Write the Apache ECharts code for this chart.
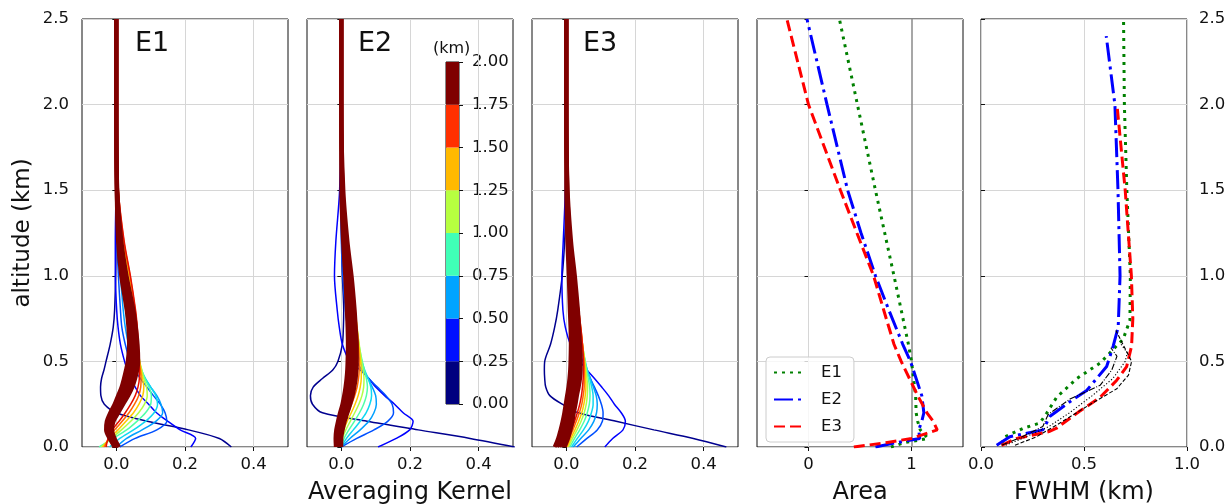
<!DOCTYPE html>
<html><head><meta charset="utf-8">
<script src="https://cdn.jsdelivr.net/npm/echarts@6/dist/echarts.min.js"></script>
<style>html,body{margin:0;padding:0;background:#fff}#c{width:1231px;height:504px}</style>
</head><body><div id="c"></div>
<script>
const FONT = 'DejaVu Sans';
// ---------- tick labels ----------
const yTicks = [0, 0.5, 1.0, 1.5, 2.0, 2.5];
const akXTicks = [0, 0.2, 0.4];
const areaXTicks = [0, 1];
const fwXTicks = [0, 0.5, 1];
const cbBounds = [0, 0.25, 0.5, 0.75, 1.0, 1.25, 1.5, 1.75, 2.0];
const cbColors = ['#00007f', '#0010ff', '#00a4ff', '#40ffb7', '#b7ff40', '#ffb900', '#ff3000', '#7f0000'];
const panelNames = ['E1', 'E2', 'E3'];
const axisTitles = ['Averaging Kernel', 'Area', 'FWHM (km)'];

// ---------- averaging kernels (altitude grid, km) ----------
const akAlt = [0, 0.05, 0.1, 0.15, 0.2, 0.25, 0.3, 0.35, 0.4, 0.45, 0.5, 0.6, 0.7, 0.8, 1.0, 1.2, 1.5, 2.0, 2.5];
const kernelColors = ['#00008f', '#0000ff', '#0050ff', '#00a0ff', '#10d8f0', '#50ffa8', '#b0ff48', '#ffc800', '#ff6800', '#e81000'];
const darkRed = '#800000';

// E1
const e1K0 = [0.335, 0.30, 0.21, 0.09, 0.0, -0.035, -0.045, -0.046, -0.043, -0.036, -0.03, -0.018, -0.009, -0.005, -0.002, -0.001, 0, 0, 0];
const e1K1 = [0.217, 0.231, 0.186, 0.15, 0.117, 0.094, 0.07, 0.055, 0.042, 0.032, 0.024, 0.012, 0.005, 0.001, -0.003, -0.003, -0.001, 0, 0];
const e1K2 = [0.01, 0.055, 0.118, 0.147, 0.142, 0.128, 0.108, 0.089, 0.07, 0.053, 0.04, 0.026, 0.016, 0.012, 0.006, 0.002, 0, 0, 0];
const e1K3 = [0.0, 0.03, 0.075, 0.115, 0.135, 0.13, 0.118, 0.1, 0.083, 0.068, 0.056, 0.036, 0.026, 0.02, 0.012, 0.005, 0.001, 0, 0];
const e1K4 = [-0.02, 0.01, 0.05, 0.085, 0.11, 0.12, 0.115, 0.1, 0.085, 0.073, 0.064, 0.045, 0.034, 0.027, 0.016, 0.008, 0.002, 0, 0];
const e1K5 = [-0.05, -0.01, 0.03, 0.06, 0.085, 0.1, 0.102, 0.095, 0.083, 0.074, 0.067, 0.056, 0.046, 0.038, 0.024, 0.012, 0.003, 0, 0];
const e1K6 = [-0.045, -0.015, 0.015, 0.042, 0.065, 0.082, 0.09, 0.088, 0.08, 0.074, 0.068, 0.06, 0.054, 0.047, 0.032, 0.017, 0.004, 0, 0];
const e1K7 = [-0.04, -0.02, 0.005, 0.028, 0.05, 0.066, 0.077, 0.08, 0.076, 0.072, 0.068, 0.062, 0.058, 0.052, 0.037, 0.02, 0.005, 0, 0];
const e1K8 = [-0.035, -0.022, -0.005, 0.017, 0.037, 0.053, 0.065, 0.071, 0.072, 0.07, 0.067, 0.063, 0.06, 0.055, 0.04, 0.022, 0.006, 0, 0];
const e1K9 = [-0.03, -0.024, -0.012, 0.008, 0.026, 0.042, 0.055, 0.063, 0.067, 0.067, 0.066, 0.064, 0.061, 0.056, 0.041, 0.023, 0.006, 0, 0];
const e1D1 = [0.008, -0.005, -0.012, -0.008, 0.006, 0.02, 0.035, 0.047, 0.055, 0.061, 0.064, 0.062, 0.057, 0.05, 0.03, 0.015, 0.003, 0, 0];
const e1D4 = [0.005, -0.009, -0.017, -0.013, 0.0, 0.014, 0.028, 0.039, 0.047, 0.053, 0.057, 0.056, 0.051, 0.045, 0.026, 0.012, 0.002, 0, 0];
const e1D2 = [0.002, -0.012, -0.021, -0.018, -0.006, 0.007, 0.02, 0.031, 0.039, 0.045, 0.049, 0.05, 0.046, 0.04, 0.022, 0.01, 0.002, 0, 0];
const e1D5 = [-0.002, -0.016, -0.026, -0.023, -0.012, 0.001, 0.012, 0.023, 0.031, 0.037, 0.041, 0.044, 0.041, 0.035, 0.018, 0.007, 0.001, 0, 0];
const e1D3 = [-0.005, -0.02, -0.03, -0.028, -0.018, -0.005, 0.005, 0.015, 0.022, 0.028, 0.033, 0.037, 0.035, 0.03, 0.014, 0.005, 0.001, 0, 0];

// E2
const e2K0 = [0.505, 0.375, 0.224, 0.075, -0.055, -0.084, -0.09, -0.082, -0.055, -0.025, -0.01, 0.003, 0.006, 0.007, 0.003, 0.001, 0, 0, 0];
const e2K1 = [0.107, 0.16, 0.199, 0.209, 0.18, 0.155, 0.126, 0.1, 0.08, 0.055, 0.025, 0.003, -0.006, -0.012, -0.02, -0.016, -0.005, 0, 0];
const e2K2 = [0.0, 0.045, 0.095, 0.135, 0.152, 0.148, 0.13, 0.105, 0.08, 0.06, 0.045, 0.028, 0.018, 0.012, 0.004, 0.0, -0.002, 0, 0];
const e2K3 = [0, 0.025, 0.055, 0.08, 0.095, 0.102, 0.1, 0.09, 0.078, 0.065, 0.055, 0.04, 0.03, 0.024, 0.014, 0.006, 0.001, 0, 0];
const e2K4 = [0, 0.015, 0.035, 0.055, 0.072, 0.083, 0.088, 0.086, 0.078, 0.068, 0.06, 0.047, 0.037, 0.03, 0.019, 0.009, 0.002, 0, 0];
const e2K5 = [0, 0.008, 0.022, 0.038, 0.053, 0.065, 0.073, 0.076, 0.073, 0.067, 0.061, 0.051, 0.042, 0.035, 0.023, 0.012, 0.003, 0, 0];
const e2K6 = [0, 0.003, 0.013, 0.026, 0.039, 0.051, 0.06, 0.065, 0.066, 0.063, 0.059, 0.052, 0.045, 0.038, 0.026, 0.014, 0.004, 0, 0];
const e2K7 = [-0.003, 0.0, 0.007, 0.017, 0.029, 0.04, 0.049, 0.055, 0.058, 0.058, 0.056, 0.051, 0.046, 0.04, 0.028, 0.016, 0.004, 0, 0];
const e2K8 = [-0.006, -0.004, 0.002, 0.01, 0.02, 0.03, 0.039, 0.046, 0.05, 0.052, 0.052, 0.049, 0.045, 0.04, 0.029, 0.017, 0.005, 0, 0];
const e2K9 = [-0.008, -0.007, -0.002, 0.005, 0.013, 0.022, 0.031, 0.038, 0.043, 0.046, 0.047, 0.047, 0.044, 0.04, 0.03, 0.018, 0.005, 0, 0];
const e2D1 = [0.0, 0.0, 0.004, 0.01, 0.018, 0.026, 0.033, 0.038, 0.042, 0.044, 0.045, 0.045, 0.042, 0.039, 0.03, 0.018, 0.006, 0, 0];
const e2D4 = [-0.004, -0.004, -0.001, 0.005, 0.012, 0.02, 0.027, 0.032, 0.035, 0.037, 0.038, 0.038, 0.036, 0.033, 0.025, 0.015, 0.004, 0, 0];
const e2D2 = [-0.008, -0.009, -0.006, 0.0, 0.007, 0.014, 0.021, 0.026, 0.029, 0.031, 0.032, 0.032, 0.031, 0.028, 0.021, 0.012, 0.003, 0, 0];
const e2D5 = [-0.012, -0.013, -0.01, -0.005, 0.001, 0.008, 0.014, 0.019, 0.022, 0.024, 0.025, 0.025, 0.024, 0.022, 0.016, 0.008, 0.002, 0, 0];
const e2D3 = [-0.016, -0.017, -0.015, -0.01, -0.004, 0.003, 0.008, 0.012, 0.015, 0.017, 0.018, 0.019, 0.018, 0.016, 0.011, 0.005, 0.0, 0, 0];

// E3
const e3K0 = [0.466, 0.37, 0.255, 0.145, 0.035, -0.012, -0.048, -0.06, -0.063, -0.064, -0.063, -0.046, -0.034, -0.025, -0.012, -0.005, 0, 0, 0];
const e3K1 = [0.112, 0.135, 0.165, 0.172, 0.16, 0.14, 0.123, 0.103, 0.082, 0.06, 0.04, 0.012, -0.003, -0.01, -0.013, -0.009, -0.003, 0, 0];
const e3K2 = [0.03, 0.06, 0.09, 0.105, 0.107, 0.102, 0.093, 0.082, 0.07, 0.058, 0.048, 0.033, 0.024, 0.018, 0.01, 0.004, 0.0, 0, 0];
const e3K3 = [0.02, 0.042, 0.065, 0.08, 0.088, 0.09, 0.087, 0.079, 0.07, 0.061, 0.053, 0.04, 0.031, 0.024, 0.014, 0.007, 0.001, 0, 0];
const e3K4 = [0.015, 0.032, 0.05, 0.064, 0.073, 0.078, 0.078, 0.074, 0.068, 0.061, 0.055, 0.044, 0.035, 0.028, 0.017, 0.009, 0.002, 0, 0];
const e3K5 = [0.01, 0.024, 0.039, 0.052, 0.061, 0.067, 0.069, 0.068, 0.064, 0.059, 0.055, 0.046, 0.038, 0.031, 0.02, 0.01, 0.002, 0, 0];
const e3K6 = [0.006, 0.018, 0.031, 0.043, 0.052, 0.058, 0.061, 0.062, 0.06, 0.057, 0.054, 0.047, 0.04, 0.033, 0.022, 0.011, 0.003, 0, 0];
const e3K7 = [0.003, 0.013, 0.025, 0.036, 0.045, 0.051, 0.055, 0.057, 0.056, 0.055, 0.053, 0.047, 0.041, 0.035, 0.023, 0.012, 0.003, 0, 0];
const e3K8 = [0.0, 0.009, 0.019, 0.029, 0.038, 0.045, 0.049, 0.052, 0.052, 0.052, 0.051, 0.047, 0.042, 0.036, 0.024, 0.013, 0.003, 0, 0];
const e3K9 = [-0.003, 0.006, 0.015, 0.024, 0.032, 0.039, 0.044, 0.047, 0.049, 0.05, 0.05, 0.047, 0.042, 0.036, 0.025, 0.013, 0.003, 0, 0];
const e3D1 = [-0.005, 0.005, 0.012, 0.018, 0.022, 0.027, 0.031, 0.036, 0.04, 0.042, 0.042, 0.04, 0.037, 0.034, 0.025, 0.014, 0.004, 0, 0];
const e3D4 = [-0.012, -0.002, 0.005, 0.01, 0.015, 0.02, 0.024, 0.028, 0.032, 0.034, 0.035, 0.033, 0.031, 0.028, 0.02, 0.011, 0.003, 0, 0];
const e3D2 = [-0.02, -0.01, -0.003, 0.003, 0.008, 0.012, 0.016, 0.021, 0.024, 0.026, 0.027, 0.027, 0.025, 0.022, 0.016, 0.008, 0.002, 0, 0];
const e3D5 = [-0.027, -0.017, -0.01, -0.004, 0.001, 0.005, 0.009, 0.013, 0.016, 0.018, 0.019, 0.02, 0.018, 0.016, 0.011, 0.005, 0.001, 0, 0];
const e3D3 = [-0.034, -0.024, -0.017, -0.011, -0.006, -0.002, 0.002, 0.006, 0.009, 0.011, 0.012, 0.013, 0.012, 0.01, 0.007, 0.003, 0.0, 0, 0];

// ---------- Area ----------
const areaAlt = [0, 0.025, 0.05, 0.1, 0.15, 0.2, 0.3, 0.4, 0.5, 0.6, 0.8, 1.0, 1.25, 1.5, 2.0, 2.5];
const areaE1 = [0.8, 0.93, 1.16, 1.085, 1.06, 1.045, 1.04, 1.02, 1.0, 0.97, 0.9, 0.83, 0.74, 0.65, 0.475, 0.30];
const areaE2 = [0.65, 0.85, 1.08, 1.07, 1.1, 1.12, 1.1, 1.045, 0.99, 0.915, 0.78, 0.65, 0.51, 0.38, 0.18, -0.015];
const areaE3 = [0.44, 0.75, 1.0, 1.25, 1.21, 1.15, 1.06, 0.98, 0.9, 0.83, 0.73, 0.632, 0.47, 0.31, 0.0, -0.21];

// ---------- FWHM ----------
const fwE1Alt = [0.02, 0.06, 0.11, 0.14, 0.2, 0.29, 0.4, 0.49, 0.57, 0.63, 0.74, 1.0, 1.5, 2.0, 2.5];
const fwE1 = [0.1, 0.117, 0.206, 0.286, 0.32, 0.367, 0.465, 0.578, 0.642, 0.69, 0.723, 0.725, 0.708, 0.696, 0.692];
const fwE2Alt = [0.01, 0.06, 0.1, 0.12, 0.18, 0.28, 0.33, 0.47, 0.59, 0.7, 1.0, 1.5, 2.0, 2.4];
const fwE2 = [0.076, 0.14, 0.3, 0.31, 0.335, 0.45, 0.513, 0.61, 0.642, 0.666, 0.675, 0.665, 0.65, 0.608];
const fwE3Alt = [0.01, 0.05, 0.09, 0.11, 0.21, 0.29, 0.39, 0.47, 0.59, 0.75, 1.0, 1.5, 2.0];
const fwE3 = [0.1, 0.173, 0.33, 0.367, 0.48, 0.578, 0.659, 0.707, 0.731, 0.737, 0.73, 0.7, 0.66];
const fwK1Alt = [0.01, 0.06, 0.14, 0.26, 0.34, 0.42, 0.5, 0.55, 0.68];
const fwK1 = [0.165, 0.27, 0.383, 0.545, 0.659, 0.716, 0.731, 0.71, 0.655];
const fwK2Alt = [0.01, 0.06, 0.12, 0.2, 0.3, 0.4, 0.5, 0.55, 0.6];
const fwK2 = [0.12, 0.22, 0.33, 0.43, 0.54, 0.64, 0.7, 0.71, 0.68];
const fwK3Alt = [0.01, 0.06, 0.12, 0.19, 0.28, 0.36, 0.45, 0.53, 0.58];
const fwK3 = [0.1, 0.2, 0.3, 0.326, 0.432, 0.578, 0.635, 0.66, 0.63];

// ---------- build ----------
const kernelsByPanel = [
  { k: [e1K0, e1K1, e1K2, e1K3, e1K4, e1K5, e1K6, e1K7, e1K8, e1K9], d: [e1D3, e1D5, e1D2, e1D4, e1D1] },
  { k: [e2K0, e2K1, e2K2, e2K3, e2K4, e2K5, e2K6, e2K7, e2K8, e2K9], d: [e2D3, e2D5, e2D2, e2D4, e2D1] },
  { k: [e3K0, e3K1, e3K2, e3K3, e3K4, e3K5, e3K6, e3K7, e3K8, e3K9], d: [e3D3, e3D5, e3D2, e3D4, e3D1] }
];
const GRIDC = '#d6d6d6';
const panelLefts = [82, 307, 532, 757, 981];
const TOP = 19, H = 428, W = 206;

function gridOpt(l, t, w, h) {
  return { left: l, top: t, width: w, height: h, show: true, borderColor: '#111', borderWidth: 1,
    backgroundColor: 'transparent', containLabel: false, outerBoundsMode: 'none' };
}
const grids = panelLefts.map(l => gridOpt(l, TOP, W, H));
grids.push(gridOpt(446, 62, 13, 342));

function lbl(extra) { return Object.assign({ fontSize: 16.5, color: '#111', fontFamily: FONT }, extra); }
function ticks(extra) { return Object.assign({ show: true, inside: false, length: 4, lineStyle: { color: '#111', width: 1 } }, extra); }

const X_MARGIN = 9;
const xAxes = [];
for (let i = 0; i < 3; i++) {
  // tick labels of panels 2 and 3 are drawn by their grid-line markLines (see below)
  xAxes.push({ type: 'value', gridIndex: i, min: -0.1, max: 0.5,
    axisLine: { show: false },
    axisTick: ticks({ customValues: akXTicks }),
    axisLabel: lbl({ show: i === 0, customValues: akXTicks, margin: X_MARGIN, formatter: v => v.toFixed(1) }),
    splitLine: { show: false } });
}
xAxes.push({ type: 'value', gridIndex: 3, min: -0.5, max: 1.5,
  axisLine: { show: false },
  axisTick: ticks({ customValues: areaXTicks }),
  axisLabel: lbl({ customValues: areaXTicks, margin: X_MARGIN, formatter: v => String(Math.round(v)) }),
  splitLine: { show: false } });
xAxes.push({ type: 'value', gridIndex: 4, min: 0, max: 1, interval: 0.5,
  axisLine: { show: false }, axisTick: ticks({}),
  axisLabel: lbl({ margin: X_MARGIN, formatter: v => v.toFixed(1) }),
  splitLine: { show: true, lineStyle: { color: GRIDC, width: 1 } } });
xAxes.push({ type: 'category', gridIndex: 5, data: [''], show: false });

const yAxes = [];
for (let i = 0; i < 5; i++) {
  yAxes.push({ type: 'value', gridIndex: i, min: 0, max: 2.5, interval: 0.5,
    position: i === 4 ? 'right' : 'left',
    axisLine: { show: false },
    axisTick: ticks({}),
    axisLabel: lbl({ show: i === 0 || i === 4, margin: i === 4 ? 12 : 13, formatter: v => v.toFixed(1) }),
    splitLine: { show: true, lineStyle: { color: GRIDC, width: 1 } },
    name: i === 0 ? 'altitude (km)' : '', nameLocation: 'middle', nameGap: 47,
    nameTextStyle: { fontSize: 23, color: '#111', fontFamily: FONT } });
}
yAxes.push({ type: 'value', gridIndex: 5, min: 0, max: 2, interval: 0.25, position: 'right',
  axisLine: { show: false }, axisTick: ticks({}),
  axisLabel: lbl({ margin: 13, formatter: v => v.toFixed(2) }),
  splitLine: { show: false } });

const series = [];
// vertical grid lines (panels 1-4); panels 2-3 also carry their x tick labels here
for (let i = 0; i < 4; i++) {
  const tv = i < 3 ? akXTicks : areaXTicks;
  const withLabel = (i === 1 || i === 2);
  const ml = tv.map(v => ({ xAxis: v,
    lineStyle: { color: (i === 3 && v === 1) ? '#8a8a8a' : GRIDC, width: (i === 3 && v === 1) ? 1.5 : 1, type: 'solid' },
    label: withLabel ? { show: true, position: 'start', distance: X_MARGIN, formatter: v.toFixed(1),
      color: '#111', fontSize: 16.5, fontFamily: FONT } : { show: false } }));
  series.push({ type: 'line', xAxisIndex: i, yAxisIndex: i, data: [], symbol: 'none', silent: true, z: 1,
    markLine: { z: 1, silent: true, symbol: 'none', label: { show: false }, animation: false, data: ml } });
}
function xy(alt, vals) { return alt.map((a, j) => [vals[j], a]); }
kernelsByPanel.forEach((p, i) => {
  p.k.forEach((vals, j) => {
    series.push({ type: 'line', xAxisIndex: i, yAxisIndex: i, data: xy(akAlt, vals), symbol: 'none', smooth: 0.3,
      silent: true, z: 3, lineStyle: { color: kernelColors[j], width: 1.5 } });
  });
  p.d.forEach(vals => {
    series.push({ type: 'line', xAxisIndex: i, yAxisIndex: i, data: xy(akAlt, vals), symbol: 'none', smooth: 0.3,
      silent: true, z: 3, lineStyle: { color: darkRed, width: 4 } });
  });
});
// Area
const e1Style = { color: '#008000', width: 3, type: [3, 5], cap: 'butt' };
const e2Style = { color: '#0000ff', width: 3, type: [19, 5, 3, 5], cap: 'butt' };
const e3Style = { color: '#ff0000', width: 3, type: [11, 5], cap: 'butt' };
series.push({ name: 'E1', type: 'line', xAxisIndex: 3, yAxisIndex: 3, data: xy(areaAlt, areaE1), symbol: 'none', z: 3, lineStyle: e1Style, itemStyle: { color: '#008000' } });
series.push({ name: 'E2', type: 'line', xAxisIndex: 3, yAxisIndex: 3, data: xy(areaAlt, areaE2), symbol: 'none', z: 3, lineStyle: e2Style, itemStyle: { color: '#0000ff' } });
series.push({ name: 'E3', type: 'line', xAxisIndex: 3, yAxisIndex: 3, data: xy(areaAlt, areaE3), symbol: 'none', z: 3, lineStyle: e3Style, itemStyle: { color: '#ff0000' } });
// FWHM
series.push({ name: 'E1 FWHM', type: 'line', xAxisIndex: 4, yAxisIndex: 4, data: xy(fwE1Alt, fwE1), symbol: 'none', z: 3, lineStyle: e1Style });
series.push({ name: 'E2 FWHM', type: 'line', xAxisIndex: 4, yAxisIndex: 4, data: xy(fwE2Alt, fwE2), symbol: 'none', z: 3, lineStyle: e2Style });
series.push({ name: 'E3 FWHM', type: 'line', xAxisIndex: 4, yAxisIndex: 4, data: xy(fwE3Alt, fwE3), symbol: 'none', z: 3, lineStyle: e3Style });
series.push({ name: 'K1', type: 'line', xAxisIndex: 4, yAxisIndex: 4, data: xy(fwK1Alt, fwK1), symbol: 'none', z: 3, lineStyle: { color: '#000', width: 1.1, type: [4, 2] } });
series.push({ name: 'K2', type: 'line', xAxisIndex: 4, yAxisIndex: 4, data: xy(fwK2Alt, fwK2), symbol: 'none', z: 3, lineStyle: { color: '#000', width: 1.1, type: [1.2, 2] } });
series.push({ name: 'K3', type: 'line', xAxisIndex: 4, yAxisIndex: 4, data: xy(fwK3Alt, fwK3), symbol: 'none', z: 3, lineStyle: { color: '#000', width: 1.1, type: [6.4, 1.6, 1, 1.6] } });
// colorbar
cbColors.forEach((c, i) => {
  series.push({ type: 'bar', xAxisIndex: 5, yAxisIndex: 5, stack: 'cb', barWidth: '100%', silent: true,
    data: [cbBounds[i + 1] - cbBounds[i]], itemStyle: { color: c } });
});

const titleCenters = [307 + W / 2, 757 + W / 2, 981 + W / 2];
const graphics = [
  { type: 'text', left: 135, top: 30, style: { text: panelNames[0], font: '27px "DejaVu Sans"', fill: '#111' } },
  { type: 'text', left: 358, top: 30, style: { text: panelNames[1], font: '27px "DejaVu Sans"', fill: '#111' } },
  { type: 'text', left: 583, top: 30, style: { text: panelNames[2], font: '27px "DejaVu Sans"', fill: '#111' } },
  { type: 'text', left: 433, top: 41, style: { text: '(km)', font: '16px "DejaVu Sans"', fill: '#111' } }
].concat(axisTitles.map((t, i) => ({ type: 'text', x: titleCenters[i], y: 481,
  style: { text: t, font: '24px "DejaVu Sans"', fill: '#111', align: 'center', verticalAlign: 'top', textAlign: 'center', textVerticalAlign: 'top' } })));

const chart = echarts.init(document.getElementById('c'), null, { renderer: 'canvas' });
chart.setOption({
  animation: false,
  backgroundColor: '#fff',
  textStyle: { fontFamily: FONT },
  grid: grids, xAxis: xAxes, yAxis: yAxes, series: series,
  legend: { show: true, data: ['E1', 'E2', 'E3'], orient: 'vertical', left: 766, top: 357, selectedMode: false,
    itemWidth: 32, itemHeight: 14, itemGap: 10, padding: [7, 12, 7, 7],
    itemStyle: { opacity: 0 },
    borderColor: '#cccccc', borderWidth: 1, borderRadius: 4, backgroundColor: 'rgba(255,255,255,0.8)',
    textStyle: { fontSize: 16.5, color: '#111', fontFamily: FONT, padding: [0, 0, 0, 10] } },
  graphic: graphics
});
</script></body></html>
